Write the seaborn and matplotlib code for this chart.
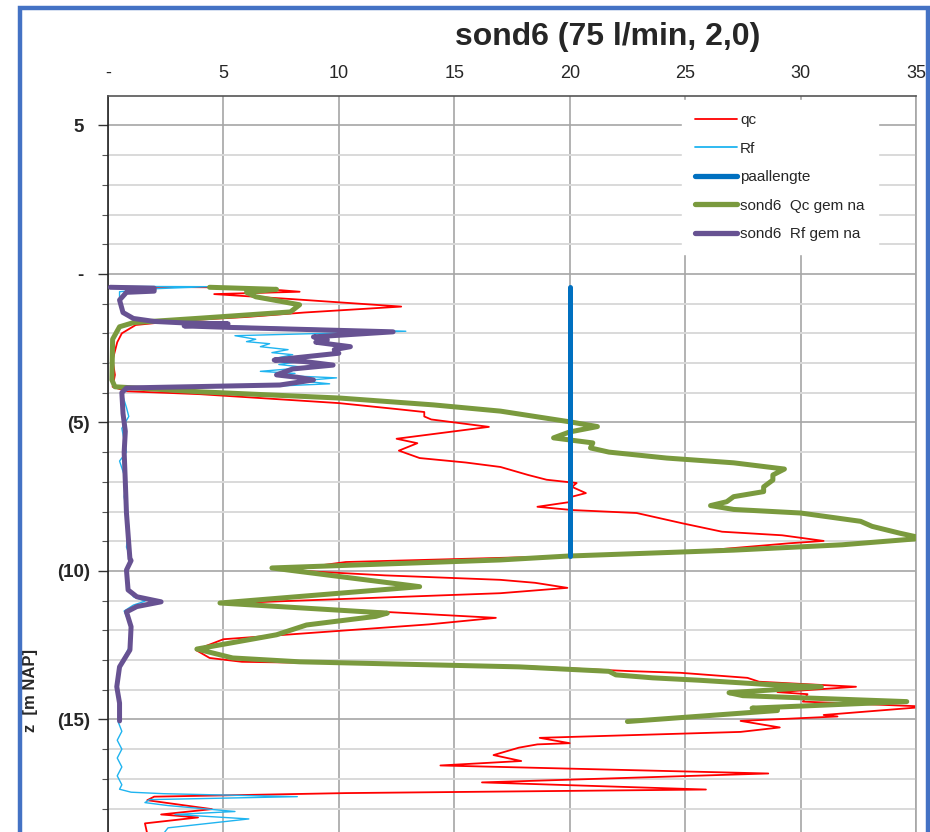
import matplotlib
matplotlib.use("Agg")
import matplotlib.pyplot as plt
from matplotlib.patches import Rectangle
from matplotlib.lines import Line2D
import seaborn as sns
import pandas as pd

# ---------------- data ----------------
title = "sond6 (75 l/min, 2,0)"
x_ticks = [0, 5, 10, 15, 20, 25, 30, 35]
x_tick_labels = ["-", "5", "10", "15", "20", "25", "30", "35"]
y_ticks = [5, 0, -5, -10, -15]
y_tick_labels = ["5 ", "- ", "(5)", "(10)", "(15)"]
y_label = "z  [m NAP]"

qc_x = [0.2, 4.4, 7.5, 8.3, 4.6, 8.0, 12.7, 8.5, 6.0, 3.0, 1.2, 0.6, 0.4, 0.2, 0.3, 0.2, 0.8,
        4.0, 10.0, 12.5, 13.7, 13.7, 14.0, 16.5, 14.5, 12.5, 13.4, 12.6, 13.5, 15.5, 17.0,
        18.2, 19.0, 20.3, 20.1, 20.7, 20.1, 20.1, 18.6, 20.1, 22.9, 24.9, 26.6, 29.2, 31.0,
        29.5, 27.1, 24.5, 19.9, 10.3, 7.7, 12.0, 17.0, 18.5, 19.9, 17.0, 5.8, 7.7, 16.8,
        13.9, 5.0, 3.8, 4.4, 5.8, 17.8, 22.5, 24.8, 27.7, 28.2, 32.4, 29.0, 30.3, 30.1,
        35.5, 31.0, 31.6, 27.4, 29.1, 27.4, 18.7, 20.0, 18.6, 17.8, 16.7, 17.9, 14.4,
        28.6, 16.2, 25.9, 10.3, 2.0, 1.7, 4.5, 2.3, 3.9, 1.6, 1.7]
qc_z = [-0.43, -0.45, -0.55, -0.60, -0.68, -0.85, -1.10, -1.30, -1.45, -1.58, -1.72, -2.00,
        -2.30, -2.90, -3.40, -3.80, -3.95, -4.05, -4.35, -4.55, -4.65, -4.80, -4.90, -5.15,
        -5.35, -5.55, -5.70, -5.95, -6.20, -6.35, -6.50, -6.77, -6.93, -7.04, -7.17, -7.38,
        -7.50, -7.67, -7.84, -7.95, -8.05, -8.40, -8.68, -8.80, -8.99, -9.07, -9.23, -9.40,
        -9.50, -9.70, -9.97, -10.15, -10.30, -10.40, -10.57, -10.75, -11.07, -11.20, -11.58,
        -11.80, -12.30, -12.66, -12.93, -13.06, -13.20, -13.37, -13.43, -13.60, -13.73,
        -13.90, -14.08, -14.15, -14.40, -14.57, -14.85, -14.90, -15.05, -15.27, -15.42,
        -15.62, -15.80, -15.84, -15.95, -16.20, -16.40, -16.55, -16.82, -17.12, -17.36,
        -17.48, -17.60, -17.72, -18.02, -18.20, -18.30, -18.50, -18.85]

rf_x = [0.1, 4.3, 2.0, 0.5, 0.5, 0.7, 1.2, 3.3, 5.0, 12.9, 5.5, 6.4, 6.0, 7.0, 6.6, 7.8, 7.1,
        8.0, 7.2, 8.3, 7.4, 8.6, 6.6, 8.1, 7.6, 9.9, 8.3, 9.6, 7.5, 1.0, 0.6, 0.8, 0.9, 0.6,
        0.8, 0.5, 0.8, 0.7, 0.9, 0.8, 1.0, 0.8, 0.9, 1.1, 1.6, 1.1, 0.7, 1.0, 0.9, 0.5, 0.4,
        0.5, 0.45, 0.6, 0.4, 0.6, 0.4, 0.6, 0.4, 0.6, 0.5, 1.0, 2.4, 8.2, 1.8, 1.6, 2.6, 5.5,
        2.9, 6.1, 2.6, 2.4]
rf_z = [-0.42, -0.43, -0.50, -0.60, -0.90, -1.30, -1.50, -1.65, -1.75, -1.93, -2.08, -2.20,
        -2.28, -2.35, -2.45, -2.55, -2.65, -2.72, -2.85, -2.95, -3.05, -3.15, -3.28, -3.35,
        -3.42, -3.50, -3.60, -3.70, -3.77, -3.85, -4.00, -4.50, -4.80, -5.20, -6.00, -6.30,
        -7.00, -7.50, -8.50, -9.20, -9.60, -9.97, -10.60, -10.87, -11.02, -11.15, -11.35,
        -11.90, -12.60, -13.20, -13.90, -14.45, -15.10, -15.40, -15.70, -16.00, -16.30,
        -16.60, -16.90, -17.20, -17.35, -17.45, -17.50, -17.60, -17.70, -17.80, -17.90,
        -18.10, -18.20, -18.35, -18.65, -18.85]

paal_x = [20.0, 20.0]
paal_z = [-0.45, -9.50]

qcgem_x = [4.4, 7.3, 6.0, 6.4, 8.3, 7.9, 4.0, 1.1, 0.5, 0.2, 0.17, 0.3, 4.0, 10.05, 14.1,
           17.0, 20.0, 21.2, 20.0, 19.3, 20.0, 21.0, 20.9, 21.7, 24.2, 27.1, 29.3, 28.8,
           28.8, 28.4, 28.4, 27.1, 26.8, 26.1, 27.1, 30.0, 32.6, 33.1, 34.3, 35.0, 35.0,
           31.8, 27.1, 19.9, 17.0, 7.1, 13.5, 4.85, 12.1, 11.6, 8.6, 7.3, 3.85, 5.4, 8.3,
           17.8, 21.7, 22.0, 23.6, 25.6, 28.5, 30.9, 26.9, 27.5, 34.6, 27.9, 29.0, 22.5]
qcgem_z = [-0.45, -0.52, -0.62, -0.77, -1.04, -1.28, -1.49, -1.64, -1.78, -2.20, -3.57,
           -3.80, -3.97, -4.18, -4.41, -4.62, -4.98, -5.14, -5.32, -5.52, -5.59, -5.69,
           -5.86, -6.00, -6.20, -6.36, -6.57, -6.77, -6.94, -7.17, -7.33, -7.50, -7.67,
           -7.80, -7.93, -8.05, -8.33, -8.50, -8.73, -8.85, -8.92, -9.12, -9.30, -9.50,
           -9.63, -9.90, -10.53, -11.08, -11.42, -11.53, -11.82, -12.15, -12.63, -12.93,
           -13.06, -13.23, -13.38, -13.50, -13.60, -13.68, -13.82, -13.90, -14.10, -14.20,
           -14.40, -14.62, -14.70, -15.07]

rfgem_x = [0.1, 2.0, 2.0, 0.8, 0.5, 0.65, 1.1, 2.0, 3.3, 5.2, 3.3, 5.2, 12.35, 8.9, 9.5,
           9.0, 10.5, 9.8, 10.0, 7.2, 8.5, 9.75, 8.0, 7.3, 8.2, 8.9, 7.45, 0.8, 0.6, 0.65,
           0.75, 0.7, 0.75, 0.8, 0.95, 1.0, 0.8, 0.87, 1.25, 2.3, 1.25, 0.8, 1.0, 0.95, 0.5,
           0.38, 0.5, 0.5]
rfgem_z = [-0.45, -0.48, -0.58, -0.62, -0.88, -1.30, -1.50, -1.60, -1.65, -1.68, -1.75,
           -1.80, -1.95, -2.12, -2.22, -2.30, -2.45, -2.55, -2.67, -2.90, -2.95, -3.07,
           -3.20, -3.40, -3.48, -3.57, -3.74, -3.84, -4.00, -4.70, -5.30, -6.00, -7.00,
           -8.05, -9.60, -9.65, -9.97, -10.64, -10.87, -11.04, -11.20, -11.38, -11.88,
           -12.66, -13.23, -13.90, -14.45, -15.05]

# ---------------- styling ----------------
sns.set_style("white")
plt.rcParams["font.family"] = ["Liberation Sans", "DejaVu Sans"]

W, H = 930, 832
fig = plt.figure(figsize=(W / 100, H / 100), dpi=100)
ax = fig.add_axes([108 / W, 0.0, (916 - 108) / W, 1 - 96 / H])

series = [
    ("qc", qc_x, qc_z, "#FF0000", 1.3, 2),
    ("Rf", rf_x, rf_z, "#1FB4F0", 1.0, 2),
    ("sond6  Qc gem na", qcgem_x, qcgem_z, "#7A9A3E", 3.6, 3),
    ("sond6  Rf gem na", rfgem_x, rfgem_z, "#675292", 3.6, 4),
    ("paallengte", paal_x, paal_z, "#0070C0", 3.6, 5),
]
for name, xs, zs, col, lw, zo in series:
    df = pd.DataFrame({"x": xs, "z": zs})
    sns.lineplot(data=df, x="x", y="z", sort=False, estimator=None, ax=ax,
                 color=col, lw=lw, zorder=zo, legend=False)

ax.set_xlim(0, 35)
ax.set_ylim(-18.79, 5.99)
ax.set_xlabel("")
ax.set_ylabel("")

ax.xaxis.tick_top()
ax.set_xticks(x_ticks)
ax.set_xticklabels(x_tick_labels, fontsize=13)
ax.tick_params(axis="x", which="major", top=True, bottom=False, length=0, pad=10)

ax.set_yticks(y_ticks)
ax.set_yticklabels(y_tick_labels, fontsize=13.5, fontweight="bold")
ax.set_yticks(list(range(-18, 6)), minor=True)
ax.tick_params(axis="y", which="major", left=True, length=7, width=1.0, color="#333333", pad=6)
ax.tick_params(axis="y", which="minor", left=True, length=4, width=0.8, color="#555555")

ax.grid(True, which="major", axis="x", color="#A6A6A6", lw=1.2)
ax.grid(True, which="major", axis="y", color="#A6A6A6", lw=1.2)
ax.grid(True, which="minor", axis="y", color="#D9D9D9", lw=1.4)
ax.set_axisbelow(True)

ax.spines["bottom"].set_visible(False)
ax.spines["left"].set_color("#222222")
ax.spines["left"].set_linewidth(1.2)
ax.spines["top"].set_color("#555555")
ax.spines["top"].set_linewidth(1.2)
ax.spines["right"].set_color("#A6A6A6")
ax.spines["right"].set_linewidth(1.2)

# legend in Excel order
handles = [
    Line2D([], [], color="#FF0000", lw=1.3),
    Line2D([], [], color="#1FB4F0", lw=1.3),
    Line2D([], [], color="#0070C0", lw=3.8),
    Line2D([], [], color="#7A9A3E", lw=3.8),
    Line2D([], [], color="#675292", lw=3.8),
]
labels = ["qc", "Rf", "paallengte", "sond6  Qc gem na", "sond6  Rf gem na"]
leg = ax.legend(handles, labels, loc="upper left",
                bbox_to_anchor=((682 - 108) / 808, 1 - 4 / 736),
                frameon=True, fancybox=False, framealpha=1.0, facecolor="white",
                edgecolor="white", fontsize=11, handlelength=2.75, handletextpad=0.2,
                labelspacing=0.95, borderpad=0.85, borderaxespad=0)
leg.set_zorder(10)

fig.text(608 / W, 1 - 37 / H, title, ha="center", va="center", fontsize=23,
         fontweight="bold")
fig.text(30 / W, 1 - 690 / H, y_label, ha="center", va="center", rotation=90,
         fontsize=12, fontweight="bold")

fig.patches.append(Rectangle((20 / W, -0.1), (928 - 20) / W, 1.1 - 8 / H,
                             transform=fig.transFigure, fill=False,
                             ec="#4472C4", lw=3.2, zorder=20))

fig.savefig("out.png", dpi=100)
